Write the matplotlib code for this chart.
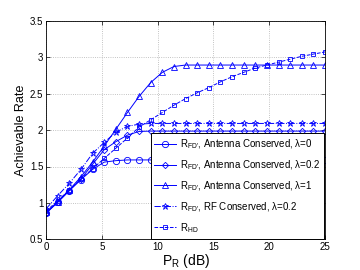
import numpy as np
import matplotlib
matplotlib.use("Agg")
import matplotlib.pyplot as plt

plt.rcParams['font.family'] = ['Liberation Sans', 'DejaVu Sans']
plt.rcParams['mathtext.fontset'] = 'custom'
plt.rcParams['mathtext.rm'] = 'Liberation Sans'
plt.rcParams['mathtext.it'] = 'Liberation Sans'

pr_db = np.linspace(0, 25, 25)

fd_ant_l0 = [0.86, 1.01, 1.17, 1.32, 1.46, 1.56, 1.58, 1.59, 1.59, 1.59, 1.59, 1.59, 1.59,
             1.59, 1.59, 1.59, 1.59, 1.59, 1.59, 1.59, 1.59, 1.59, 1.59, 1.59, 1.59]
fd_ant_l02 = [0.86, 1.01, 1.17, 1.33, 1.53, 1.73, 1.84, 1.93, 1.98, 1.985, 1.985, 1.985, 1.985,
              1.985, 1.985, 1.985, 1.985, 1.985, 1.985, 1.985, 1.985, 1.985, 1.985, 1.985, 1.985]
fd_ant_l1 = [0.87, 1.02, 1.18, 1.36, 1.56, 1.78, 2.01, 2.24, 2.46, 2.65, 2.79, 2.87, 2.89,
             2.89, 2.89, 2.89, 2.89, 2.89, 2.89, 2.89, 2.89, 2.89, 2.89, 2.89, 2.89]
fd_rf_l02 = [0.92, 1.10, 1.27, 1.46, 1.68, 1.83, 1.97, 2.05, 2.08, 2.09, 2.09, 2.09, 2.09,
             2.09, 2.09, 2.09, 2.09, 2.09, 2.09, 2.09, 2.09, 2.09, 2.09, 2.09, 2.09]
hd = [0.89, 1.03, 1.18, 1.33, 1.47, 1.61, 1.75, 1.89, 2.04, 2.14, 2.24, 2.34, 2.43,
      2.51, 2.58, 2.66, 2.73, 2.79, 2.85, 2.89, 2.93, 2.97, 3.01, 3.04, 3.07]

labels = [r"R$_{\text{FD'}}$, Antenna Conserved, λ=0",
          r"R$_{\text{FD'}}$, Antenna Conserved, λ=0.2",
          r"R$_{\text{FD'}}$, Antenna Conserved, λ=1",
          r"R$_{\text{FD'}}$, RF Conserved, λ=0.2",
          r"R$_{\mathrm{HD}}$"]

fig = plt.figure(figsize=(3.6, 2.7), dpi=100)
ax = fig.add_axes([0.128, 0.113, 0.775, 0.811])

blue = (0, 0, 1)
series = [(fd_ant_l0, 'o', '-'), (fd_ant_l02, 'D', '-'), (fd_ant_l1, '^', '-'),
          (fd_rf_l02, '*', '-.'), (hd, 's', '--')]
for (ys, mk, ls), lab in zip(series, labels):
    ms = 4.5 if mk in ('o', '^', '*') else 3.5
    if mk == 'D':
        ms = 3.2
    ax.plot(pr_db, ys, color=blue, linestyle=ls, marker=mk, markersize=ms,
            markerfacecolor='none', markeredgecolor=blue, markeredgewidth=0.6,
            linewidth=0.7, label=lab)

ax.set_xlim(0, 25)
ax.set_ylim(0.5, 3.5)
ax.set_xticks([0, 5, 10, 15, 20, 25])
ax.set_yticks([0.5, 1, 1.5, 2, 2.5, 3, 3.5])
ax.set_yticklabels(['0.5', '1', '1.5', '2', '2.5', '3', '3.5'])
ax.tick_params(direction='in', top=True, right=True, labelsize=7, length=3, width=0.5, pad=2)
ax.grid(True, linestyle=':', color='#b0b0b0', linewidth=0.6)
for s in ax.spines.values():
    s.set_linewidth(0.6)

ax.set_xlabel(r"P$_{\mathrm{R}}$ (dB)", fontsize=10, labelpad=0)
ax.set_ylabel("Achievable Rate", fontsize=9, labelpad=2)

leg = ax.legend(loc='lower right', fontsize=7, frameon=True, fancybox=False,
                edgecolor='black', framealpha=1, borderaxespad=0.1,
                handlelength=2.2, handletextpad=0.4, labelspacing=0.75,
                borderpad=0.4)
leg.get_frame().set_linewidth(0.7)

fig.savefig("out.png", dpi=100)
